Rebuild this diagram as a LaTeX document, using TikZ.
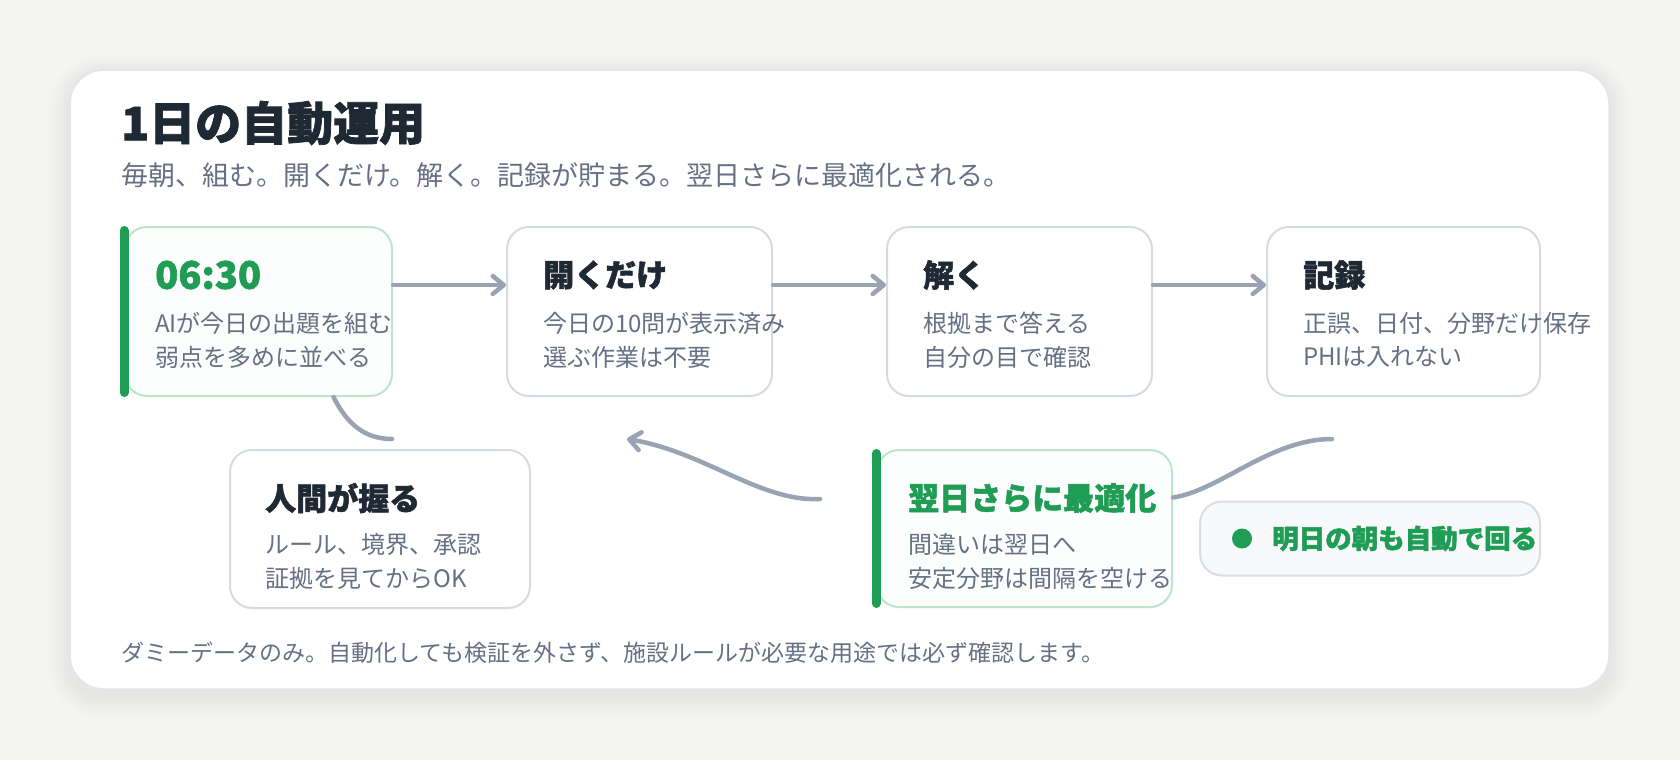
\documentclass[tikz,border=0pt]{standalone}
\usepackage{fontspec}
\setmainfont{Noto Sans CJK JP}
\newfontfamily\heavyfont{Noto Sans CJK JP}[BoldFeatures={FakeBold=1.6}]
\usetikzlibrary{arrows.meta}
\definecolor{pagebg}{HTML}{F4F4F2}
\definecolor{cardline}{HTML}{E3E6EA}
\definecolor{boxgray}{HTML}{D6DBE2}
\definecolor{greenline}{HTML}{BDE5CB}
\definecolor{greenfill}{HTML}{FBFEFC}
\definecolor{accent}{HTML}{1F9D55}
\definecolor{ink}{HTML}{1F2933}
\definecolor{muted}{HTML}{667085}
\definecolor{flowgray}{HTML}{9AA3B2}
\definecolor{pillfill}{HTML}{F8F9FA}
\definecolor{pillline}{HTML}{D9DDE3}
\newcommand\fsz[1]{\fontsize{#1pt}{#1pt}\selectfont}
\begin{document}
\begin{tikzpicture}[x=1pt,y=-1pt,
  graybox/.style={draw=boxgray, line width=2pt, fill=white, rounded corners=22pt, inner sep=0pt},
  greenbox/.style={draw=greenline, line width=2pt, fill=greenfill, rounded corners=22pt, inner sep=0pt},
  pillbox/.style={draw=pillline, line width=2pt, fill=pillfill, rounded corners=22pt, inner sep=0pt},
  greenbar/.style={draw=accent, line width=9pt, line cap=round},
  headtxt/.style={anchor=west, inner sep=0pt, text=ink, font=\heavyfont\fsz{31}\bfseries},
  headgreen/.style={anchor=west, inner sep=0pt, text=accent, font=\heavyfont\fsz{31}\bfseries},
  bodytxt/.style={anchor=west, inner sep=0pt, text=muted, font=\fsz{24}},
  link/.style={draw=flowgray, line width=4.5pt, line cap=round},
  flow/.style={link, -{Straight Barb[round,length=11pt,width=18pt]}}
]
\useasboundingbox (0,0) rectangle (1680,760);
\fill[pagebg] (0,0) rectangle (1680,760);
% soft shadow
\foreach \i in {1,...,14} {
  \pgfmathsetmacro\rr{34+\i*1.5}
  \fill[black, fill opacity=0.0055, rounded corners=\rr pt] (70-\i*1.6, 74-\i*1.4) rectangle (1609+\i*1.6, 697+\i*1.6);
}
% card
\draw[draw=cardline, line width=1.5pt, fill=white, rounded corners=34pt] (70,70) rectangle (1609,689);

% titles
\node[anchor=west, inner sep=0pt, text=ink, font=\heavyfont\fsz{46}\bfseries] (title) at (121,123) {1日の自動運用};
\node[anchor=west, inner sep=0pt, text=muted, font=\fsz{27}] (subtitle) at (121,175) {毎朝、組む。開くだけ。解く。記録が貯まる。翌日さらに最適化される。};

% boxes
\node[greenbox, minimum width=267pt, minimum height=169pt] (b1) at (258.5,311.5) {};
\node[graybox, minimum width=265pt, minimum height=169pt] (b2) at (639.5,311.5) {};
\node[graybox, minimum width=265pt, minimum height=169pt] (b3) at (1019.5,311.5) {};
\node[graybox, minimum width=273pt, minimum height=169pt] (b4) at (1403.5,311.5) {};
\node[graybox, minimum width=300pt, minimum height=158pt] (b5) at (380,529) {};
\node[greenbox, minimum width=295pt, minimum height=157pt] (b6) at (1024.5,528.5) {};
\node[pillbox, minimum width=340pt, minimum height=74pt] (pill) at (1370,538.5) {};

% green bars
\draw[greenbar] ([yshift=-4.5pt]b1.north west) -- ([yshift=4.5pt]b1.south west);
\draw[greenbar] ([yshift=-4.5pt]b6.north west) -- ([yshift=4.5pt]b6.south west);

% connectors
\draw[flow] ([yshift=26.5pt]b1.east) -- ([yshift=26.5pt]b2.west);
\draw[flow] ([yshift=26.5pt]b2.east) -- ([yshift=26.5pt]b3.west);
\draw[flow] ([yshift=26.5pt]b3.east) -- ([yshift=26.5pt]b4.west);
\coordinate (humanend) at (392,439);
\draw[link] ([xshift=75pt]b1.south) .. controls +(13,26) and +(-28,0) .. (humanend);
\coordinate (looptail) at (820,499);
\coordinate (looptip) at (627,439);
\draw[flow] (looptail) .. controls (760,502) and (705,452) .. (looptip);
\coordinate (recordend) at (1332,439);
\draw[link] ([yshift=31pt]b6.east) .. controls +(47,-7) and +(-62,0) .. (recordend);

% box texts
\node[headgreen, font=\heavyfont\fsz{38}\bfseries] (b1h) at (155,275) {06:30};
\node[bodytxt] (b1a) at (155,323.5) {AIが今日の出題を組む};
\node[bodytxt] (b1b) at (155,357) {弱点を多めに並べる};

\node[headtxt] (b2h) at (543,275) {開くだけ};
\node[bodytxt] (b2a) at (543,323.5) {今日の10問が表示済み};
\node[bodytxt] (b2b) at (543,357) {選ぶ作業は不要};

\node[headtxt] (b3h) at (923,275) {解く};
\node[bodytxt] (b3a) at (923,323.5) {根拠まで答える};
\node[bodytxt] (b3b) at (923,357) {自分の目で確認};

\node[headtxt] (b4h) at (1303,275) {記録};
\node[bodytxt] (b4a) at (1303,323.5) {正誤、日付、分野だけ保存};
\node[bodytxt] (b4b) at (1303,357) {PHIは入れない};

\node[headtxt] (b5h) at (265,498) {人間が握る};
\node[bodytxt] (b5a) at (265,544.5) {ルール、境界、承認};
\node[bodytxt] (b5b) at (265,578) {証拠を見てからOK};

\node[headgreen] (b6h) at (908,498) {翌日さらに最適化};
\node[bodytxt] (b6a) at (908,544.5) {間違いは翌日へ};
\node[bodytxt] (b6b) at (908,578) {安定分野は間隔を空ける};

% pill
\node[circle, fill=accent, inner sep=0pt, minimum size=20pt] (dot) at (1242,538.5) {};
\node[anchor=west, inner sep=0pt, text=accent, font=\heavyfont\fsz{26.5}\bfseries] (pilltext) at (1272,538.5) {明日の朝も自動で回る};

% footer
\node[anchor=west, inner sep=0pt, text=muted, font=\fsz{23}] (foot) at (121,653) {ダミーデータのみ。自動化しても検証を外さず、施設ルールが必要な用途では必ず確認します。};
\end{tikzpicture}
\end{document}
